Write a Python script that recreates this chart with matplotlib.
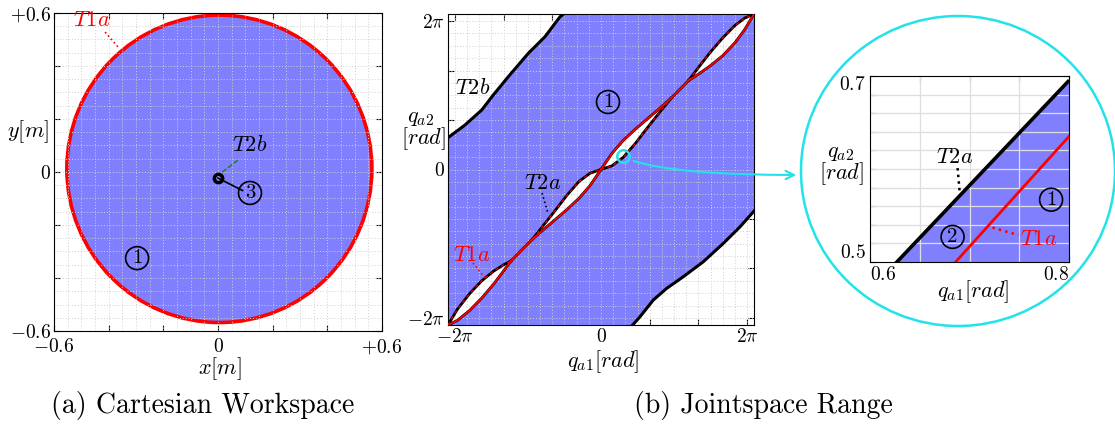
import numpy as np
import matplotlib.pyplot as plt
from matplotlib.patches import Ellipse, Polygon, FancyArrowPatch

plt.rcParams['mathtext.fontset'] = 'cm'
plt.rcParams['font.family'] = ['cmr10', 'DejaVu Serif']
plt.rcParams['axes.unicode_minus'] = False

BLUE = '#8080ff'
CYAN = '#22e2ea'
W, H = 1115, 426


def px(x, y):
    # figure pixel (from top-left) -> figure fraction
    return x / W, 1 - y / H


# ---- (a) cartesian workspace ----
ws_center = (0.005, 0.012)
ws_rx, ws_ry = 0.558, 0.58
hole_xy = (0.0, -0.023)

# ---- (b) joint space, T2b boundaries ----
t2b_up_x = [-6.283, -5.585, -4.899, -4.423, -3.807, -2.985, -2.30, -1.684, -1.53]
t2b_up_y = [1.285, 1.798, 2.404, 3.01, 3.75, 4.695, 5.366, 6.17, 6.283]
t2b_lo_x = [1.30, 1.602, 2.148, 2.698, 3.379, 4.201, 5.022, 5.709, 6.283]
t2b_lo_y = [-6.283, -5.949, -5.274, -4.802, -4.333, -3.727, -2.986, -2.316, -1.68]

# lens-shaped holes along the diagonal (offsets of q_a2 from q_a1)
lens_x = [
    [-6.283, -5.9, -5.4, -4.9, -4.4, -4.0, -3.7],
    [-2.8, -2.4, -1.9, -1.4, -0.9, -0.45, 0.0],
    [0.0, 0.45, 0.9, 1.4, 1.9, 2.4, 2.9],
    [3.6, 4.0, 4.5, 5.0, 5.5, 5.9, 6.283],
]
lens_up = [
    [0, 0.25, 0.38, 0.40, 0.30, 0.15, 0],
    [0, 0.10, 0.22, 0.36, 0.42, 0.30, 0],
    [0, 0.20, 0.26, 0.22, 0.14, 0.06, 0],
    [0, 0.12, 0.25, 0.32, 0.32, 0.22, 0],
]
lens_lo = [
    [0, -0.20, -0.30, -0.30, -0.22, -0.10, 0],
    [0, -0.06, -0.14, -0.22, -0.26, -0.20, 0],
    [0, -0.30, -0.42, -0.36, -0.22, -0.10, 0],
    [0, -0.15, -0.30, -0.40, -0.38, -0.25, 0],
]
# which edge of each lens carries the T1a trace (True = lower edge)
t1a_lower = [True, True, False, True]
cross_x = [[-3.7, -2.8], [2.9, 3.6]]

# ---- zoomed inset ----
ins_black_x = [0.627, 0.799]
ins_black_y = [0.5, 0.694]
ins_red_x = [0.686, 0.8]
ins_red_y = [0.5, 0.635]
zoom_pt = (0.92, 0.56)


def circled(ax, x, y, s):
    ax.text(x, y, s, ha='center', va='center', fontsize=15, family='cmr10', zorder=6,
            bbox=dict(boxstyle='circle,pad=0.12', fc='none', ec='black', lw=1.2))


def grid_lines(ax, xs, ys, **kw):
    for v in xs:
        ax.axvline(v, **kw)
    for v in ys:
        ax.axhline(v, **kw)


fig = plt.figure(figsize=(W / 100, H / 100), dpi=100)

# ===== (a) =====
ax1 = fig.add_axes([54 / W, 1 - 331 / H, 328 / W, 318 / H])
ax1.set_xlim(-0.6, 0.6)
ax1.set_ylim(-0.6, 0.6)
ax1.set_axisbelow(True)
ax1.add_patch(Ellipse(ws_center, 2 * ws_rx, 2 * ws_ry, fc=BLUE, ec='red', lw=2.6, zorder=1))
grid_lines(ax1, np.arange(-0.55, 0.6, 0.05), np.arange(-0.55, 0.6, 0.05),
           color='#d0d0d0', ls=(0, (1, 2)), lw=0.7, zorder=1.5)
ax1.plot(*hole_xy, marker='o', ms=6, mfc='none', mec='black', mew=2.5, zorder=5)
ticks_a = np.round(np.arange(-0.6, 0.61, 0.2), 2)
ax1.set_xticks(ticks_a)
ax1.set_yticks(ticks_a)
lab_a = [r'$-0.6$', '', '', r'$0$', '', '', r'$+0.6$']
ax1.set_xticklabels(lab_a)
ax1.set_yticklabels(lab_a)
ax1.tick_params(direction='in', top=True, right=True, labelsize=14, length=4, width=0.8, pad=2)
ax1.tick_params(axis='x', pad=5)
ax1.text(-0.461, 0.574, r'$T1a$', color='red', fontsize=16, ha='center', va='center')
ax1.plot([-0.413, -0.366], [0.528, 0.472], color='red', ls=':', lw=1.2)
ax1.text(0.117, 0.102, r'$T2b$', color='black', fontsize=16, ha='center', va='center')
ax1.plot([0.073, 0.011], [0.045, -0.004], color='#108010', ls='--', lw=1.0, zorder=5)
ax1.plot([hole_xy[0], 0.09], [hole_xy[1], -0.07], color='black', lw=1.2, zorder=4)
circled(ax1, 0.117, -0.079, '3')
circled(ax1, -0.296, -0.325, '1')
fig.text(*px(28, 132), r'$y[m]$', fontsize=16, ha='center', va='center')
fig.text(*px(220, 369), r'$x[m]$', fontsize=16, ha='center', va='center')
fig.text(*px(203, 405), '(a) Cartesian Workspace', fontsize=20, ha='center', va='center')

# ===== (b) =====
ax2 = fig.add_axes([448 / W, 1 - 325 / H, 306 / W, 311 / H])
lim = 6.283
ax2.set_xlim(-lim, lim)
ax2.set_ylim(-lim, lim)
ax2.set_axisbelow(True)
region = list(zip(t2b_up_x, t2b_up_y)) + [(lim, lim)] + \
    list(zip(t2b_lo_x[::-1], t2b_lo_y[::-1])) + [(-lim, -lim)]
ax2.add_patch(Polygon(region, closed=True, fc=BLUE, ec='none', zorder=1))
for lx, lu, ll in zip(lens_x, lens_up, lens_lo):
    lx = np.array(lx)
    ax2.fill_between(lx, lx + np.array(ll), lx + np.array(lu), color='white', lw=0, zorder=1.2)
grid_lines(ax2, np.arange(-6, 6.1, 0.5), np.arange(-6, 6.1, 0.5),
           color='#d0d0d0', ls=(0, (1, 2)), lw=0.7, zorder=1.5)
ax2.plot(t2b_up_x, t2b_up_y, color='black', lw=2.2, zorder=3)
ax2.plot(t2b_lo_x, t2b_lo_y, color='black', lw=2.2, zorder=3)
for lx, lu, ll, low in zip(lens_x, lens_up, lens_lo, t1a_lower):
    lx = np.array(lx)
    up = lx + np.array(lu)
    lo = lx + np.array(ll)
    ax2.plot(lx, up, color='black', lw=2.0, zorder=3)
    ax2.plot(lx, lo, color='black', lw=2.0, zorder=3)
    main, other = (lo, up) if low else (up, lo)
    ax2.plot(lx, main, color='red', lw=1.3, zorder=4)
    ax2.plot(lx, other, color='red', lw=0.8, ls=(0, (3, 3)), zorder=4)
for cx in cross_x:
    ax2.plot(cx, cx, color='black', lw=2.0, zorder=3)
    ax2.plot(cx, cx, color='red', lw=1.4, zorder=4)
ax2.set_xticks([-6, -4, -2, 0, 2, 4, 6])
ax2.set_yticks([-6, -4, -2, 0, 2, 4, 6])
lab_b = [r'$-2\pi$', '', '', r'$0$', '', '', r'$2\pi$']
ax2.set_xticklabels(lab_b)
ax2.set_yticklabels(lab_b)
ax2.tick_params(direction='in', top=True, right=True, labelsize=14, length=4, width=0.8, pad=2)
ax2.text(-5.256, 3.293, r'$T2b$', fontsize=16, ha='center', va='center', zorder=6)
circled(ax2, 0.287, 2.727, '1')
ax2.text(-2.38, -0.546, r'$T2a$', fontsize=16, ha='center', va='center', zorder=6)
ax2.plot([-2.42, -2.18], [-0.95, -1.76], color='black', ls=':', lw=1.2, zorder=5)
ax2.text(-5.30, -3.45, r'$T1a$', color='red', fontsize=16, ha='center', va='center', zorder=6)
ax2.plot([-5.26, -4.76], [-3.78, -4.38], color='red', ls=':', lw=1.2, zorder=5)
ax2.plot(*zoom_pt, marker='o', ms=9, mfc='none', mec=CYAN, mew=1.8, zorder=7)
fig.text(*px(421, 118), r'$q_{a2}$', fontsize=16, ha='center', va='center')
fig.text(*px(423, 139), r'$[rad]$', fontsize=16, ha='center', va='center')
fig.text(*px(603, 362), r'$q_{a1}[rad]$', fontsize=16, ha='center', va='center')
fig.text(*px(763, 405), '(b) Jointspace Range', fontsize=20, ha='center', va='center')

# connector to zoom circle
fig.add_artist(FancyArrowPatch(px(631, 160), px(799, 175), transform=fig.transFigure,
                               connectionstyle='angle3,angleA=-20,angleB=0',
                               arrowstyle='->,head_length=6,head_width=3',
                               color=CYAN, lw=1.5))
fig.add_artist(Ellipse(px(958, 171), 314 / W, 310 / H, transform=fig.transFigure,
                       fc='none', ec=CYAN, lw=1.8))

# ===== inset =====
ax3 = fig.add_axes([870 / W, 1 - 262 / H, 199 / W, 186 / H])
ax3.set_xlim(0.6, 0.8)
ax3.set_ylim(0.5, 0.7)
ax3.set_axisbelow(True)
ax3.add_patch(Polygon([(ins_black_x[0], ins_black_y[0]), (0.8, 0.695), (0.8, 0.5)],
                      closed=True, fc=BLUE, ec='none', zorder=1))
grid_lines(ax3, [0.65, 0.7, 0.75], np.arange(0.52, 0.69, 0.02),
           color='#dedede', ls='-', lw=0.9, zorder=1.5)
ax3.plot(ins_black_x, ins_black_y, color='black', lw=2.6, zorder=3)
ax3.plot(ins_red_x, ins_red_y, color='red', lw=2.0, zorder=3)
ax3.set_xticks([0.6, 0.65, 0.7, 0.75, 0.8])
ax3.set_xticklabels([r'$0.6$', '', '', '', r'$0.8$'])
ax3.set_yticks(np.round(np.arange(0.5, 0.71, 0.02), 2))
ax3.set_yticklabels([r'$0.5$'] + [''] * 9 + [r'$0.7$'])
ax3.tick_params(direction='in', top=True, right=True, labelsize=14, length=4, width=0.8, pad=3)
xl = ax3.get_xticklabels()
xl[0].set_ha('left')
xl[-1].set_ha('right')
yl = ax3.get_yticklabels()
yl[0].set_va('bottom')
yl[-1].set_va('top')
ax3.text(0.685, 0.613, r'$T2a$', fontsize=16, ha='center', va='center', zorder=6)
ax3.plot([0.688, 0.690], [0.601, 0.577], color='black', ls=':', lw=1.8, zorder=5)
circled(ax3, 0.782, 0.567, '1')
circled(ax3, 0.683, 0.527, '2')
ax3.text(0.751, 0.524, r'$T1a$', color='red', fontsize=16, ha='left', va='center', zorder=6)
ax3.plot([0.723, 0.749], [0.537, 0.529], color='red', ls=':', lw=1.8, zorder=5)
fig.text(*px(841, 153), r'$q_{a2}$', fontsize=16, ha='center', va='center')
fig.text(*px(841, 174), r'$[rad]$', fontsize=16, ha='center', va='center')
fig.text(*px(973, 292), r'$q_{a1}[rad]$', fontsize=16, ha='center', va='center')

fig.savefig('out.png', dpi=100)
